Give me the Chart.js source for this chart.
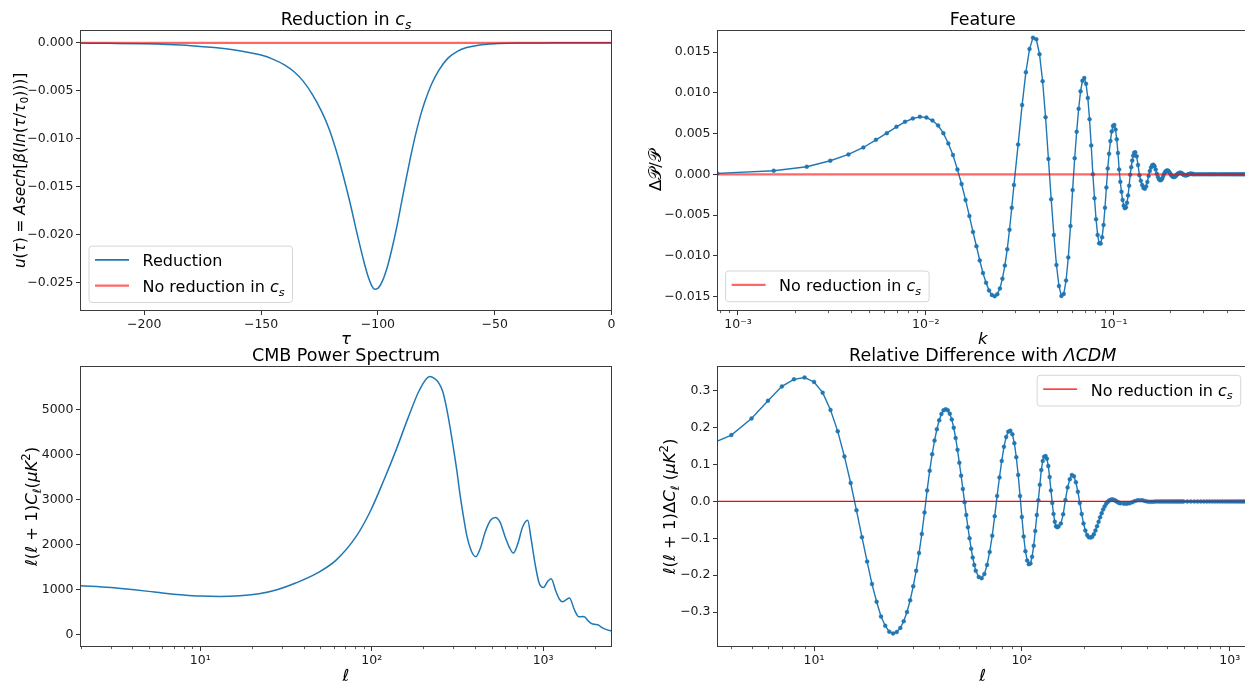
<!DOCTYPE html>
<html>
<head>
<meta charset="utf-8">
<title>Sound speed reduction</title>
<script src="https://cdn.jsdelivr.net/npm/chart.js@4.4.1/dist/chart.umd.min.js"></script>
<style>
  html, body { margin: 0; padding: 0; background: #ffffff; }
  body { position: relative; width: 1245px; height: 682px; overflow: hidden; }
  canvas { position: absolute; }
</style>
</head>
<body>
<canvas id="reduction" width="620" height="352" style="left:0;top:0"></canvas>
<canvas id="feature" width="640" height="352" style="left:620px;top:0"></canvas>
<canvas id="cmb" width="620" height="342" style="left:0;top:340px"></canvas>
<canvas id="reldiff" width="640" height="342" style="left:620px;top:340px"></canvas>
<script>
const FAMILY = "'DejaVu Sans', sans-serif";
const BLUE = '#1f77b4';
const SOFT_RED = 'rgba(255, 0, 0, 0.6)';

// u(tau) profile of the sound speed dip
const tau = [-228, -215, -200, -190, -180, -170, -160, -150, -145, -140, -136, -132, -128, -124,
  -121, -118, -115, -112, -109, -106, -104, -102.5, -101.5, -100, -98, -96, -94, -92, -90, -88,
  -86, -84, -82, -80, -77, -74, -70, -66, -62, -57, -50, -40, -25, 0];
const uTau = [-0.00003, -0.00006, -0.00011, -0.00018, -0.0003, -0.0005, -0.0008, -0.00128, -0.0017,
  -0.0023, -0.003, -0.004, -0.0054, -0.0072, -0.0089, -0.0111, -0.0137, -0.0166, -0.0198, -0.0228,
  -0.0245, -0.0254, -0.0257, -0.0256, -0.0248, -0.0234, -0.0215, -0.0193, -0.0168, -0.0143,
  -0.0119, -0.0097, -0.0078, -0.0062, -0.0043, -0.0029, -0.0016, -0.0009, -0.0005, -0.00025,
  -0.0001, -0.00003, -0.00001, 0];
const tauTicks = [-200, -150, -100, -50, 0];
const uTicks = [0, -0.005, -0.01, -0.015, -0.02, -0.025];

// Delta P / P of the primordial spectrum
const featureK = [
  0.000775, 0.00155, 0.002325, 0.0031, 0.003875, 0.00465, 0.005425, 0.0062, 0.006975, 0.00775,
  0.008525, 0.0093, 0.010075, 0.01085, 0.011625, 0.0124, 0.013175, 0.01395, 0.014725, 0.0155,
  0.016275, 0.01705, 0.017825, 0.0186, 0.019375, 0.02015, 0.020925, 0.0217, 0.022475, 0.02325,
  0.024025, 0.0248, 0.025575, 0.02635, 0.027125, 0.0279, 0.028675,
  0.02945, 0.0310, 0.03255, 0.0341, 0.03565, 0.0372, 0.03875, 0.0403, 0.04185, 0.0434,
  0.04495, 0.0465, 0.04805, 0.0496, 0.05115, 0.0527, 0.05425, 0.0558, 0.05735, 0.0589,
  0.06045, 0.062, 0.06355, 0.0651, 0.06665, 0.0682, 0.06975, 0.0713, 0.07285, 0.0744,
  0.07595, 0.0775, 0.07905, 0.0806, 0.08215, 0.0837, 0.08525, 0.0868, 0.08835, 0.0899,
  0.09145, 0.093, 0.09455, 0.0961, 0.09765, 0.0992, 0.10075, 0.1023, 0.10385, 0.1054,
  0.10695, 0.1085, 0.11005, 0.1116, 0.11315, 0.1147, 0.11625, 0.1178, 0.11935, 0.1209,
  0.12245, 0.124, 0.12555, 0.1271, 0.12865, 0.1302,
  0.13253, 0.13485, 0.13718, 0.1395, 0.14183, 0.14415, 0.14648, 0.1488, 0.15113, 0.15345,
  0.15578, 0.1581, 0.16043, 0.16275, 0.16508, 0.1674, 0.16973, 0.17205, 0.17438, 0.1767,
  0.17903, 0.18135, 0.18368, 0.186, 0.18833, 0.19065, 0.19298, 0.1953, 0.19763, 0.19995,
  0.20228, 0.2046, 0.20693, 0.20925, 0.21158, 0.2139, 0.21623, 0.21855, 0.22088, 0.2232,
  0.22553, 0.22785, 0.23018, 0.2325, 0.23483, 0.23715, 0.23948, 0.2418, 0.24413, 0.24645,
  0.24878, 0.2511, 0.25343, 0.25575, 0.25808, 0.2604, 0.26273, 0.26505,
  0.2705, 0.278, 0.286, 0.294, 0.302, 0.31, 0.318, 0.326, 0.334, 0.342,
  0.35, 0.36, 0.37, 0.38, 0.39, 0.4, 0.41, 0.42, 0.43, 0.44,
  0.45, 0.46, 0.47, 0.48, 0.49, 0.5, 0.51, 0.52];
const featureDP = [
  0.00012, 0.00045, 0.00094, 0.00167, 0.00245, 0.0033, 0.00424, 0.00506, 0.00584, 0.00645,
  0.00686, 0.00706, 0.00698, 0.00661, 0.006, 0.00506, 0.0038, 0.00237, 0.00061, -0.00118,
  -0.00314, -0.0051, -0.00706, -0.00882, -0.01057, -0.01212, -0.01331, -0.01424, -0.0148, -0.01495,
  -0.0147, -0.014, -0.0128, -0.0112, -0.0092, -0.0068, -0.0041,
  -0.0013, 0.00366, 0.0085, 0.01254, 0.01538, 0.01678, 0.01658, 0.01475, 0.01144, 0.00701,
  0.00189, -0.00304, -0.00745, -0.01113, -0.01371, -0.01492, -0.01467, -0.01303, -0.01019, -0.00634,
  -0.00193, 0.00198, 0.00523, 0.00805, 0.01019, 0.01149, 0.01183, 0.01111, 0.00937, 0.00677,
  0.00355, 0, -0.00293, -0.00551, -0.00743, -0.00846, -0.0085, -0.00771, -0.0062, -0.0041,
  -0.00162, 0.00073, 0.00253, 0.00409, 0.00527, 0.00595, 0.00607, 0.00551, 0.00431, 0.00262,
  0.0006, -0.00092, -0.00214, -0.00314, -0.00384, -0.00415, -0.00404, -0.00349, -0.00259, -0.00139,
  -0.00005, 0.00088, 0.00169, 0.0023, 0.00266, 0.00271,
  0.00221, 0.00114, -0.00011, -0.00078, -0.00132, -0.00166, -0.00175, -0.00149, -0.00093, -0.00019,
  0.0004, 0.00084, 0.00112, 0.00118, 0.00099, 0.0006, 0.00007, -0.00031, -0.00059, -0.00072,
  -0.00069, -0.0005, -0.0002, 0.0001, 0.00031, 0.00045, 0.00049, 0.00043, 0.00029, 0.0001,
  -0.00008, -0.00021, -0.0003, -0.00033, -0.00029, -0.00021, -0.00008, 0.00004, 0.00012, 0.00017,
  0.0002, 0.00019, 0.00014, 0.00006, -0.00002, -0.00007, -0.00011, -0.00012, -0.00011, -0.00007,
  -0.00002, 0.00002, 0.00005, 0.00007, 0.00008, 0.00007, 0.00005, 0.00002,
  0, 0, 0, 0, 0, 0, 0, 0, 0, 0,
  0, 0, 0, 0, 0, 0, 0, 0, 0, 0,
  0, 0, 0, 0, 0, 0, 0, 0];
const kTicks = [1e-3, 1e-2, 1e-1];
const dpTicks = [0.015, 0.01, 0.005, 0, -0.005, -0.01, -0.015];

// TT power spectrum l(l+1)C_l
const ellTT = [2, 3, 4, 5, 6, 8, 10, 13, 17, 22, 28, 36, 48, 62, 81, 98, 118, 139, 163, 190, 218,
  232, 245, 260, 274, 288, 300, 314, 328, 344, 360, 383, 405, 430, 460, 495, 527, 560, 600, 640,
  670, 710, 760, 813, 850, 900, 950, 1005, 1060, 1114, 1190, 1245, 1300, 1360, 1423, 1524, 1593,
  1628, 1700, 1760, 1830, 1908, 1990, 2088, 2160, 2237, 2350, 2450, 2560];
const dlTT = [1090, 1050, 1005, 965, 930, 885, 860, 850, 866, 910, 1000, 1150, 1370, 1660, 2180,
  2740, 3444, 4115, 4820, 5440, 5740, 5700, 5610, 5400, 5020, 4560, 4140, 3640, 3100, 2600, 2180,
  1845, 1735, 1920, 2290, 2550, 2607, 2510, 2180, 1920, 1815, 2010, 2400, 2545, 2140, 1550, 1140,
  1052, 1180, 1244, 955, 790, 733, 775, 815, 550, 415, 400, 405, 390, 310, 252, 232, 225, 185, 148,
  115, 95, 78];
const ttEllTicks = [10, 100, 1000];
const dlTicks = [0, 1000, 2000, 3000, 4000, 5000];

// difference with respect to LCDM
const ellDiff = [
  3, 4, 5, 6, 7, 8, 9, 10, 11, 12, 13, 14, 15, 16, 17, 18, 19, 20, 21, 22,
  23, 24, 25, 26, 27, 28, 29, 30, 31, 32, 33, 34, 35, 36, 37, 38, 39, 40, 41, 42,
  43, 44, 45, 46, 47, 48, 49, 50, 51, 52, 53, 54, 55, 56, 57, 58, 59, 60,
  62, 64, 66, 68, 70, 72, 74, 76, 78, 80, 82, 84, 86, 88, 90, 92, 94, 96, 98, 100,
  102, 104, 106, 108, 110, 112, 114, 116, 118, 120, 122, 124, 126, 128, 130, 132, 134, 136, 138, 140,
  142, 144, 146, 148, 150,
  154, 158, 162, 166, 170, 174, 178, 182, 186, 190, 194, 198, 202, 206, 210, 214, 218, 222, 226, 230,
  234, 238, 242, 246, 250, 254, 258, 262, 266, 270, 274, 278, 282, 286, 290, 294, 298,
  310, 320, 330, 340, 350, 360, 370, 380, 390, 400, 410, 420, 430, 440, 450, 460, 470, 480, 490, 500,
  510, 520, 530, 540, 550, 560, 570, 580, 590, 600,
  625, 650, 675, 700, 725, 750, 775, 800, 825, 850, 875, 900, 925, 950, 975, 1000,
  1025, 1050, 1075, 1100, 1125, 1150, 1175, 1200, 1225];
const dlDiff = [
  0.15, 0.18, 0.225, 0.273, 0.312, 0.331, 0.336, 0.324, 0.295, 0.248,
  0.19, 0.122, 0.05, -0.024, -0.097, -0.163, -0.224, -0.272, -0.312, -0.337,
  -0.353, -0.358, -0.354, -0.343, -0.325, -0.3, -0.268, -0.23, -0.188, -0.14,
  -0.088, -0.03, 0.03, 0.083, 0.128, 0.165, 0.196, 0.22, 0.237, 0.247,
  0.25, 0.247, 0.238, 0.222, 0.2, 0.172, 0.14, 0.105, 0.07, 0.034,
  -0.002, -0.037, -0.07, -0.1, -0.128, -0.152, -0.172, -0.188,
  -0.205, -0.208, -0.197, -0.172, -0.137, -0.093, -0.04, 0.015, 0.065, 0.11,
  0.148, 0.175, 0.189, 0.192, 0.182, 0.158, 0.12, 0.072, 0.015, -0.042,
  -0.095, -0.135, -0.16, -0.17, -0.168, -0.15, -0.12, -0.08, -0.037, 0.003,
  0.045, 0.085, 0.11, 0.121, 0.123, 0.116, 0.096, 0.066, 0.03, -0.004,
  -0.034, -0.055, -0.067, -0.07, -0.068,
  -0.06, -0.035, 0.004, 0.038, 0.06, 0.0715, 0.068, 0.052, 0.026, -0.004,
  -0.034, -0.06, -0.079, -0.091, -0.097, -0.098, -0.096, -0.089, -0.079, -0.067,
  -0.055, -0.043, -0.032, -0.022, -0.014, -0.007, -0.002, 0.002, 0.004, 0.005,
  0.005, 0.004, 0.002, 0, -0.002, -0.004, -0.005,
  -0.0065, -0.0065, -0.005, -0.002, 0.001, 0.003, 0.0035, 0.003, 0.0015, 0,
  -0.001, -0.001, -0.0005, 0, 0, 0, 0, 0, 0, 0,
  0, 0, 0, 0, 0, 0, 0, 0, 0, 0,
  0, 0, 0, 0, 0, 0, 0, 0, 0, 0, 0, 0, 0, 0, 0, 0,
  0, 0, 0, 0, 0, 0, 0, 0, 0];
const diffEllTicks = [10, 100, 1000];
const diffTicks = [0.3, 0.2, 0.1, 0, -0.1, -0.2, -0.3];

// ---- helpers ----
const SUPER = { '-': '⁻', '0': '⁰', '1': '¹', '2': '²', '3': '³', '4': '⁴' };
function powLabel(v) {
  const e = Math.round(Math.log10(v));
  return '10' + String(e).split('').map(c => SUPER[c]).join('');
}
function fixed(n) {
  return v => (v < 0 ? '\u2212' : '') + Math.abs(v).toFixed(n);
}
function pts(xs, ys) {
  return xs.map((x, i) => ({ x: x, y: ys[i] }));
}

// pieces of mixed upright / italic / subscript text
const T = t => ({ t: t });
const I = t => ({ t: t, i: true });
const SUB = (t, i) => ({ t: t, i: i, sub: true });
const SUP = t => ({ t: t, sup: true });

function fontStr(size, italic) {
  return (italic ? 'italic ' : '') + size + 'px ' + FAMILY;
}
function partSize(p, size) {
  return p.sub || p.sup ? size * 0.7 : size;
}
function richWidth(ctx, parts, size) {
  let w = 0;
  parts.forEach(p => {
    ctx.font = fontStr(partSize(p, size), p.i);
    w += ctx.measureText(p.t).width;
  });
  return w;
}
function drawRich(ctx, parts, x, y, size, centered) {
  let cx = centered ? x - richWidth(ctx, parts, size) / 2 : x;
  ctx.textAlign = 'left';
  ctx.textBaseline = 'alphabetic';
  parts.forEach(p => {
    ctx.font = fontStr(partSize(p, size), p.i);
    const dy = p.sub ? size * 0.22 : (p.sup ? -size * 0.42 : 0);
    ctx.fillText(p.t, cx, y + dy);
    cx += ctx.measureText(p.t).width;
  });
}

// frame, minor log ticks, titles and the legend box
const panelDecor = {
  id: 'panelDecor',
  afterDraw(chart, args, o) {
    const ctx = chart.ctx;
    const a = chart.chartArea;
    ctx.save();

    if (o.logX) {
      const sx = chart.scales.x;
      ctx.strokeStyle = '#333';
      ctx.lineWidth = 0.8;
      ctx.beginPath();
      for (let e = Math.floor(Math.log10(sx.min)); e <= Math.ceil(Math.log10(sx.max)); e++) {
        for (let m = 2; m <= 9; m++) {
          const v = m * Math.pow(10, e);
          if (v < sx.min || v > sx.max) continue;
          const px = Math.round(sx.getPixelForValue(v)) + 0.5;
          ctx.moveTo(px, a.bottom);
          ctx.lineTo(px, a.bottom + 2.6);
        }
      }
      ctx.stroke();
    }

    ctx.strokeStyle = '#3c3c3c';
    ctx.lineWidth = 1;
    ctx.strokeRect(a.left, a.top, a.right - a.left, a.bottom - a.top);

    ctx.fillStyle = '#000';
    const midX = (a.left + a.right) / 2;
    drawRich(ctx, o.title, midX, a.top - 5.5, 17.5, true);
    drawRich(ctx, o.xLabel, midX, a.bottom + o.xLabelGap, 16.5, true);
    ctx.save();
    ctx.translate(o.yLabelX, (a.top + a.bottom) / 2);
    ctx.rotate(-Math.PI / 2);
    drawRich(ctx, o.yLabel, 0, 0, o.yLabelSize || 16.5, true);
    ctx.restore();

    const lg = o.legend;
    if (lg) {
      let textW = 0;
      lg.items.forEach(it => { textW = Math.max(textW, richWidth(ctx, it.parts, 16)); });
      const w = 53.5 + textW + 8;
      const h = 12 + lg.items.length * 25.7 - 7;
      const x = lg.right !== undefined ? lg.right - w : lg.x;
      const y = lg.bottom !== undefined ? lg.bottom - h : lg.y;
      ctx.beginPath();
      ctx.roundRect(x, y, w, h, 3);
      ctx.fillStyle = 'rgba(255,255,255,0.8)';
      ctx.fill();
      ctx.strokeStyle = '#d6d6d6';
      ctx.lineWidth = 1;
      ctx.stroke();
      lg.items.forEach((it, i) => {
        const ly = y + 13.8 + i * 25.7;
        ctx.beginPath();
        ctx.moveTo(x + 6, ly);
        ctx.lineTo(x + 40, ly);
        ctx.strokeStyle = it.color;
        ctx.lineWidth = it.width;
        ctx.stroke();
        ctx.fillStyle = '#000';
        drawRich(ctx, it.parts, x + 53.5, ly + 6.4, 16, false);
      });
    }
    ctx.restore();
  }
};

function axis(o) {
  const horizontal = o.pos === 'bottom';
  return {
    type: o.type || 'linear',
    position: o.pos,
    bounds: 'data',
    min: o.min,
    max: o.max,
    afterBuildTicks: s => { s.ticks = o.ticks.map(v => ({ value: v })); },
    afterFit: s => { if (horizontal) s.height = o.size; else s.width = o.size; },
    grid: { drawOnChartArea: false, tickLength: 4.5, tickColor: '#333', tickWidth: 1 },
    border: { display: false },
    ticks: {
      font: { family: FAMILY, size: 12.5 },
      color: '#1a1a1a',
      padding: 2.5,
      maxRotation: 0,
      autoSkip: false,
      callback: o.fmt
    }
  };
}

function baseOptions(padding, scales, decor) {
  return {
    responsive: false,
    animation: false,
    events: [],
    layout: { padding: padding },
    scales: scales,
    plugins: { legend: { display: false }, tooltip: { enabled: false }, panelDecor: decor }
  };
}

const markerLine = {
  borderColor: BLUE,
  borderWidth: 1.4,
  pointRadius: 2,
  pointBackgroundColor: BLUE,
  pointBorderColor: 'rgba(31,119,180,0.45)',
  pointBorderWidth: 0.8
};

const csLabel = [T('No reduction in '), I('c'), SUB('s', true)];

// top left: u(tau)
new Chart(document.getElementById('reduction'), {
  type: 'line',
  data: {
    datasets: [
      { data: pts([tau[0], tau[tau.length - 1]], [0, 0]), borderColor: SOFT_RED, borderWidth: 2.2, pointRadius: 0 },
      { data: pts(tau, uTau), borderColor: BLUE, borderWidth: 1.5, pointRadius: 0, cubicInterpolationMode: 'monotone' }
    ]
  },
  options: baseOptions({ left: 0, top: 30.5, right: 8.5, bottom: 0 }, {
    x: axis({ pos: 'bottom', min: -227.3, max: 0, ticks: tauTicks, fmt: fixed(0), size: 41.5 }),
    y: axis({ pos: 'left', min: -0.02791, max: 0.00128, ticks: uTicks, fmt: fixed(3), size: 80.5 })
  }, {
    title: [T('Reduction in '), I('c'), SUB('s', true)],
    xLabel: [I('τ')], xLabelGap: 33.5,
    yLabel: [I('u'), T('('), I('τ'), T(') = '), I('Asech'), T('['), I('β'), T('('), I('ln'), T('('), I('τ'), T('/'), I('τ'), SUB('0'), T(')))]')],
    yLabelX: 24.5,
    yLabelSize: 15.3,
    legend: { x: 89, bottom: 302.5, items: [
      { color: BLUE, width: 1.6, parts: [T('Reduction')] },
      { color: SOFT_RED, width: 2.2, parts: csLabel }
    ] }
  }),
  plugins: [panelDecor]
});

// top right: feature in the primordial spectrum
new Chart(document.getElementById('feature'), {
  type: 'line',
  data: {
    datasets: [
      { data: pts([featureK[0], featureK[featureK.length - 1]], [0, 0]), borderColor: SOFT_RED, borderWidth: 2.2, pointRadius: 0 },
      Object.assign({ data: pts(featureK, featureDP) }, markerLine)
    ]
  },
  options: baseOptions({ left: 0, top: 30.5, right: 12, bottom: 0 }, {
    x: axis({ type: 'logarithmic', pos: 'bottom', min: 0.000778, max: 0.519, ticks: kTicks, fmt: powLabel, size: 41.5 }),
    y: axis({ pos: 'left', min: -0.01671, max: 0.01766, ticks: dpTicks, fmt: fixed(3), size: 97.5 })
  }, {
    logX: true,
    title: [T('Feature')],
    xLabel: [I('k')], xLabelGap: 33.5,
    yLabel: [T('Δ𝒫/𝒫')],
    yLabelX: 41,
    legend: { x: 105.6, bottom: 301.7, items: [{ color: SOFT_RED, width: 2.2, parts: csLabel }] }
  }),
  plugins: [panelDecor]
});

// bottom left: CMB TT spectrum
new Chart(document.getElementById('cmb'), {
  type: 'line',
  data: {
    datasets: [
      { data: pts(ellTT, dlTT), borderColor: BLUE, borderWidth: 1.5, pointRadius: 0, cubicInterpolationMode: 'monotone' }
    ]
  },
  options: baseOptions({ left: 0, top: 26.5, right: 8.5, bottom: 0 }, {
    x: axis({ type: 'logarithmic', pos: 'bottom', min: 2, max: 2506, ticks: ttEllTicks, fmt: powLabel, size: 35.5 }),
    y: axis({ pos: 'left', min: -260, max: 5962, ticks: dlTicks, fmt: fixed(0), size: 80.5 })
  }, {
    logX: true,
    title: [T('CMB Power Spectrum')],
    xLabel: [I('ℓ')], xLabelGap: 34.5,
    yLabel: [I('ℓ'), T('('), I('ℓ'), T(' + 1)'), I('C'), SUB('ℓ', true), T('('), I('μK'), SUP('2'), T(')')],
    yLabelX: 37
  }),
  plugins: [panelDecor]
});

// bottom right: relative difference
new Chart(document.getElementById('reldiff'), {
  type: 'line',
  data: {
    datasets: [
      { data: pts([ellDiff[0], ellDiff[ellDiff.length - 1]], [0, 0]), borderColor: '#ff0000', borderWidth: 1.2, pointRadius: 0 },
      Object.assign({ data: pts(ellDiff, dlDiff) }, markerLine)
    ]
  },
  options: baseOptions({ left: 0, top: 26.5, right: 12, bottom: 0 }, {
    x: axis({ type: 'logarithmic', pos: 'bottom', min: 3.43, max: 1225, ticks: diffEllTicks, fmt: powLabel, size: 35.5 }),
    y: axis({ pos: 'left', min: -0.3933, max: 0.3659, ticks: diffTicks, fmt: fixed(1), size: 97.5 })
  }, {
    logX: true,
    title: [T('Relative Difference with '), I('ΛCDM')],
    xLabel: [I('ℓ')], xLabelGap: 34.5,
    yLabel: [I('ℓ'), T('('), I('ℓ'), T(' + 1)Δ'), I('C'), SUB('ℓ', true), T(' ('), I('μK'), SUP('2'), T(')')],
    yLabelX: 55,
    legend: { right: 620.7, y: 35.3, items: [{ color: '#ff0000', width: 1.2, parts: csLabel }] }
  }),
  plugins: [panelDecor]
});
</script>
</body>
</html>
